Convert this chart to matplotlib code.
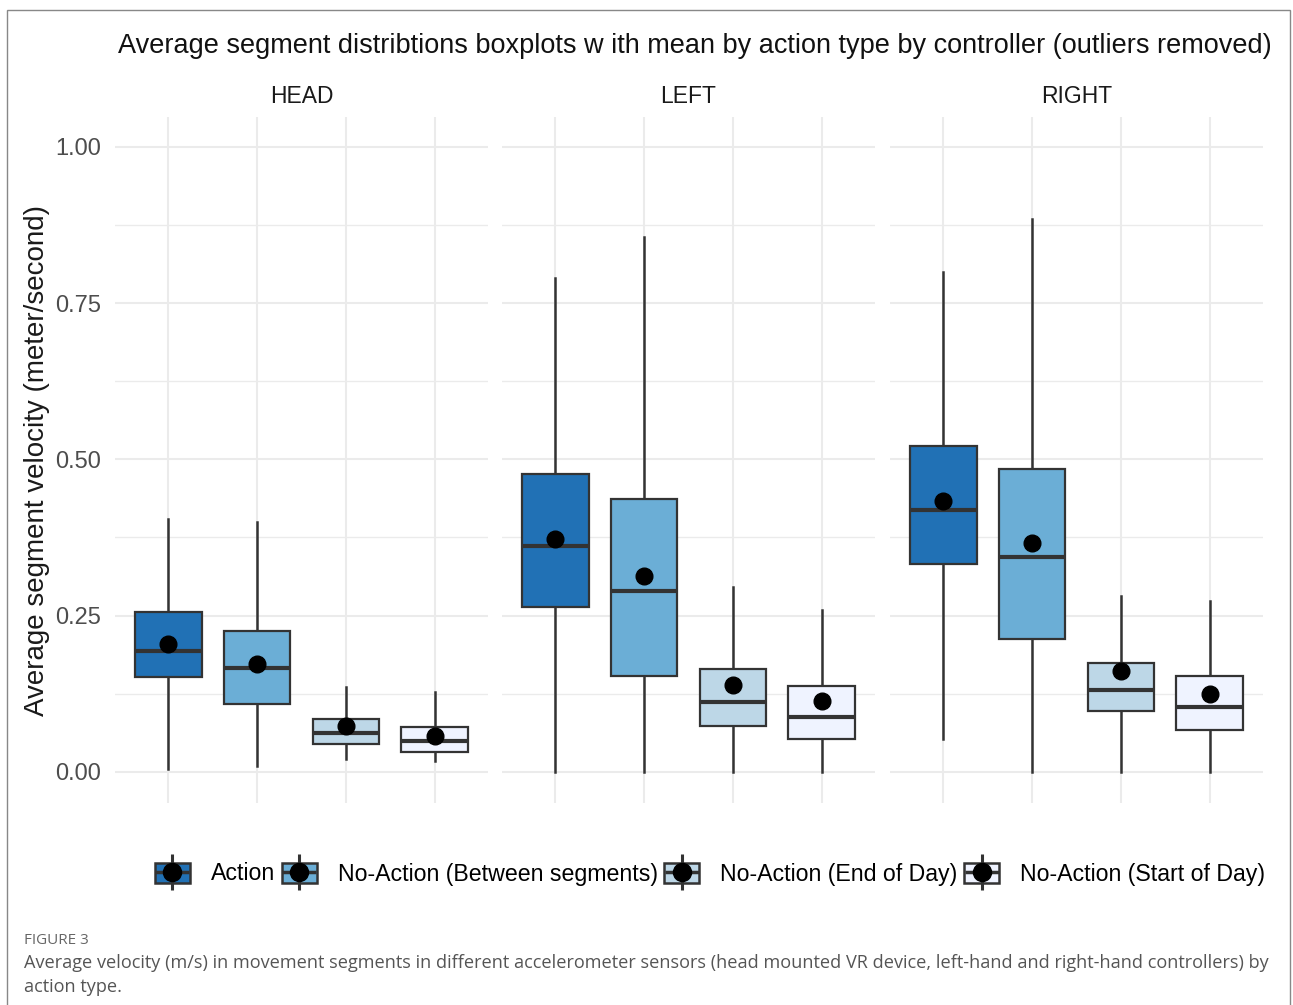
import numpy as np
import matplotlib
matplotlib.use("Agg")
import matplotlib.pyplot as plt
from matplotlib.patches import Rectangle, Patch
from matplotlib.lines import Line2D
from matplotlib.legend_handler import HandlerTuple

plt.rcParams['font.family'] = ['Liberation Sans', 'DejaVu Sans']

# Data
panels = ["HEAD", "LEFT", "RIGHT"]
groups = ["Action", "No-Action (Between segments)", "No-Action (End of Day)", "No-Action (Start of Day)"]
colors = ["#2171B5", "#6BAED6", "#BDD7E7", "#EFF3FF"]

head_whislo = [0.005, 0.010, 0.021, 0.017]
head_q1 = [0.152, 0.109, 0.045, 0.032]
head_med = [0.194, 0.166, 0.062, 0.049]
head_q3 = [0.255, 0.226, 0.084, 0.071]
head_whishi = [0.404, 0.400, 0.135, 0.127]
head_mean = [0.204, 0.173, 0.073, 0.057]

left_whislo = [0.0, 0.0, 0.0, 0.0]
left_q1 = [0.264, 0.153, 0.073, 0.053]
left_med = [0.362, 0.290, 0.112, 0.088]
left_q3 = [0.477, 0.437, 0.164, 0.138]
left_whishi = [0.790, 0.856, 0.296, 0.259]
left_mean = [0.373, 0.313, 0.139, 0.113]

right_whislo = [0.052, 0.0, 0.0, 0.0]
right_q1 = [0.333, 0.212, 0.098, 0.067]
right_med = [0.419, 0.344, 0.131, 0.104]
right_q3 = [0.521, 0.484, 0.174, 0.153]
right_whishi = [0.800, 0.884, 0.282, 0.273]
right_mean = [0.433, 0.366, 0.161, 0.124]

data = {
    "HEAD": (head_whislo, head_q1, head_med, head_q3, head_whishi, head_mean),
    "LEFT": (left_whislo, left_q1, left_med, left_q3, left_whishi, left_mean),
    "RIGHT": (right_whislo, right_q1, right_med, right_q3, right_whishi, right_mean),
}

W, H = 1293, 1005
fig = plt.figure(figsize=(W / 100, H / 100), dpi=100)

# outer frame of the figure
fig.patches.append(Rectangle((7 / W, -0.05), (1290 - 7) / W, 1 - 10 / H + 0.05,
                             transform=fig.transFigure, fill=False,
                             edgecolor="#888888", linewidth=1.0))

edge = "#333333"
grid = "#EBEBEB"
panel_left = [115, 502, 890]
panel_w = 373
top_px, bot_px = 117, 803

axes = []
for i, name in enumerate(panels):
    ax = fig.add_axes([panel_left[i] / W, 1 - bot_px / H, panel_w / W, (bot_px - top_px) / H])
    axes.append(ax)
    whislo, q1, med, q3, whishi, mean = data[name]
    stats = []
    for k in range(len(groups)):
        stats.append(dict(whislo=whislo[k], q1=q1[k], med=med[k], q3=q3[k],
                          whishi=whishi[k], mean=mean[k], fliers=[]))
    pos = np.arange(1, len(groups) + 1)
    bp = ax.bxp(stats, positions=pos, widths=0.75, patch_artist=True,
                showmeans=True, showcaps=False, showfliers=False,
                boxprops=dict(edgecolor=edge, linewidth=1.6),
                whiskerprops=dict(color=edge, linewidth=1.8),
                medianprops=dict(color=edge, linewidth=3.0),
                meanprops=dict(marker='o', markerfacecolor='black', markeredgecolor='black',
                               markersize=12))
    for patch, c in zip(bp['boxes'], colors):
        patch.set_facecolor(c)
    for w in bp['whiskers']:
        w.set_zorder(1.5)

    ax.set_xlim(0.4, 4.6)
    ax.set_ylim(-0.05, 1.048)
    ax.set_yticks([0, 0.25, 0.5, 0.75, 1.0])
    ax.set_yticks([0.125, 0.375, 0.625, 0.875], minor=True)
    ax.set_xticks(pos)
    ax.set_xticklabels([])
    ax.grid(True, which='major', color=grid, linewidth=1.5)
    ax.grid(True, which='minor', axis='y', color=grid, linewidth=1.0)
    ax.set_axisbelow(True)
    for s in ax.spines.values():
        s.set_visible(False)
    ax.tick_params(which='both', length=0)
    if i == 0:
        ax.set_yticklabels(["0.00", "0.25", "0.50", "0.75", "1.00"], fontsize=17, color="#4D4D4D")
        ax.tick_params(axis='y', pad=10)
        ax.set_ylabel("Average segment velocity (meter/second)", fontsize=20, color="#1A1A1A", labelpad=4)
    else:
        ax.set_yticklabels([])
    ax.set_title(name, fontsize=16.5, color="#1A1A1A", pad=10)

fig.text(695 / W, 1 - 46 / H,
         "Average segment distribtions boxplots w ith mean by action type by controller (outliers removed)",
         ha='center', va='center', fontsize=19.5, color="#111111")

# legend with boxplot-like keys
handles = []
for c in colors:
    handles.append((Patch(facecolor=c, edgecolor=edge, linewidth=1.8),
                    Line2D([], [], color=edge, marker='|', markersize=26, markeredgewidth=2.2, linestyle='none'),
                    Line2D([], [], color=edge, marker='_', markersize=24, markeredgewidth=2.5, linestyle='none'),
                    Line2D([], [], color='black', marker='o', markersize=13, linestyle='none')))
fig.legend(handles, groups, handler_map={tuple: HandlerTuple(ndivide=1, pad=0)},
           loc='center', bbox_to_anchor=(710 / W, 1 - 874 / H), ncol=4, frameon=False,
           fontsize=16.7, handlelength=1.5, handleheight=0.95, handletextpad=0.9,
           columnspacing=0.3)

fig.text(24 / W, 1 - 940 / H, "FIGURE 3", fontsize=11, color="#666666",
         family=['Open Sans', 'DejaVu Sans'], va='center')
fig.text(24 / W, 1 - 963 / H,
         "Average velocity (m/s) in movement segments in different accelerometer sensors (head mounted VR device, left-hand and right-hand controllers) by",
         fontsize=13.1, color="#555555", family=['Open Sans', 'DejaVu Sans'], va='center')
fig.text(24 / W, 1 - 987 / H, "action type.", fontsize=13.1, color="#555555",
         family=['Open Sans', 'DejaVu Sans'], va='center')

fig.savefig("out.png", dpi=100)
